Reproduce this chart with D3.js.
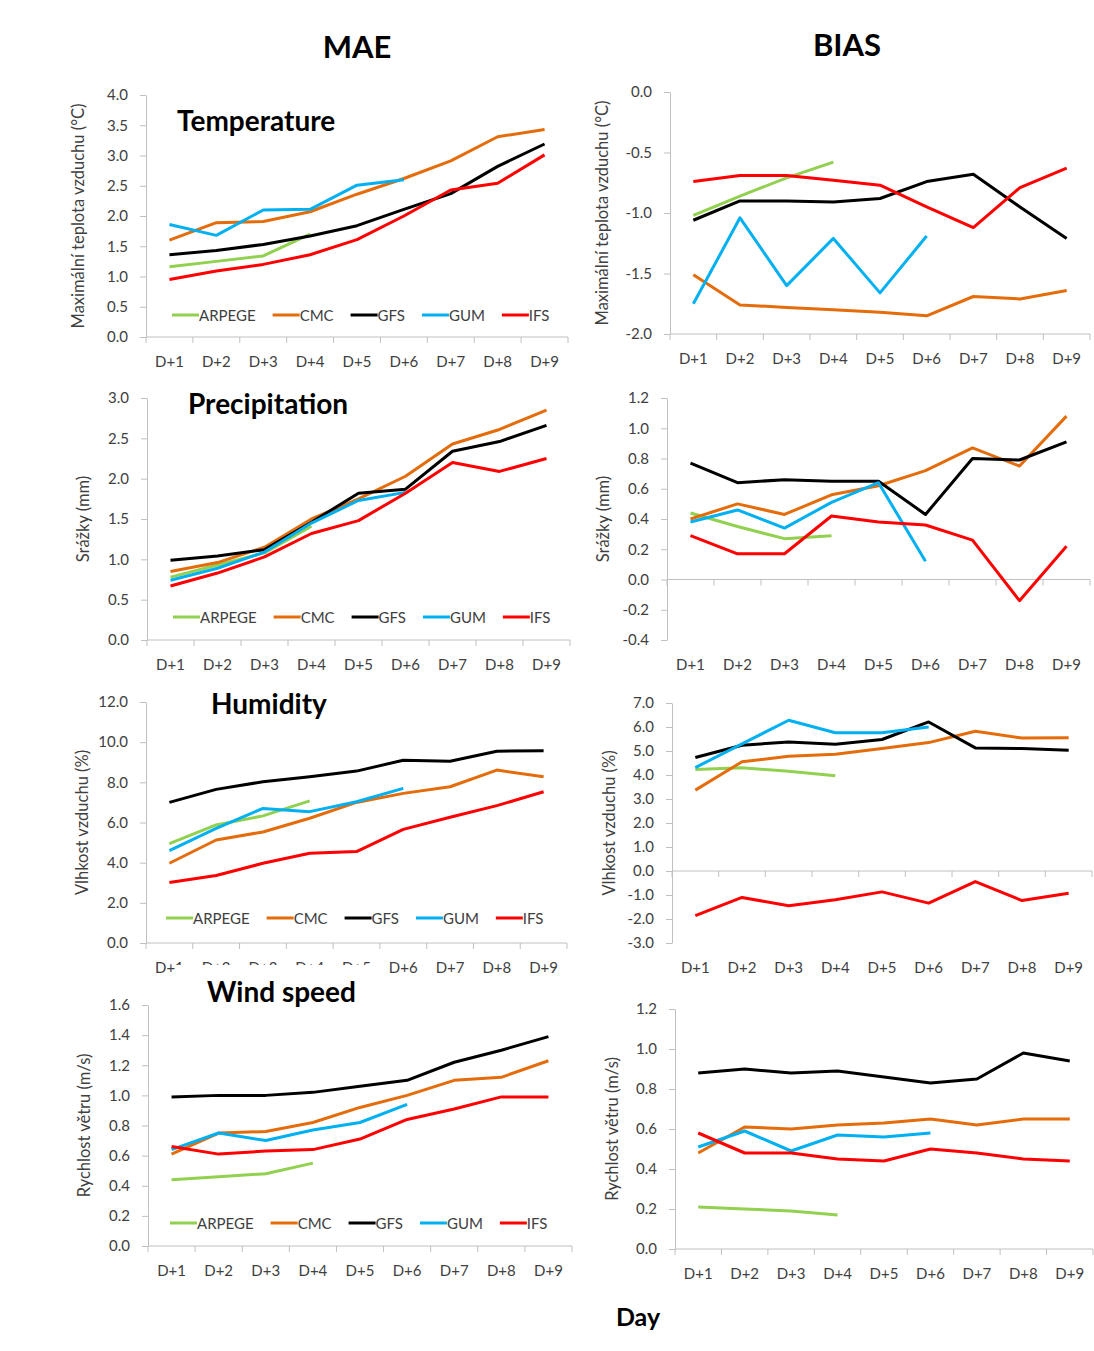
<!DOCTYPE html>
<html>
<head>
<meta charset="utf-8">
<script src="https://cdn.jsdelivr.net/npm/d3@7"></script>
<style>
  body { margin: 0; background: #ffffff; }
  svg { display: block; }
  text { font-family: Lato, "Open Sans", sans-serif; }
</style>
</head>
<body>
<svg id="chart" width="1094" height="1351"></svg>
<script>
// Forecast lead days and models
const days = ["D+1", "D+2", "D+3", "D+4", "D+5", "D+6", "D+7", "D+8", "D+9"];
const models = ["ARPEGE", "CMC", "GFS", "GUM", "IFS"];
const modelColors = ["#92d050", "#e46c0a", "#000000", "#00b0f0", "#ff0000"];

// Each table: one row per model (order as in `models`), one value per lead day
const maeTemperature = [
  [1.16, 1.25, 1.34, 1.70],
  [1.60, 1.89, 1.91, 2.07, 2.36, 2.62, 2.91, 3.31, 3.43],
  [1.36, 1.43, 1.53, 1.67, 1.84, 2.11, 2.37, 2.82, 3.19],
  [1.86, 1.68, 2.10, 2.11, 2.51, 2.60],
  [0.95, 1.09, 1.20, 1.36, 1.61, 2.00, 2.43, 2.54, 3.01]
];
const biasTemperature = [
  [-1.02, -0.86, -0.71, -0.58],
  [-1.51, -1.76, -1.78, -1.80, -1.82, -1.85, -1.69, -1.71, -1.64],
  [-1.06, -0.90, -0.90, -0.91, -0.88, -0.74, -0.68, -0.95, -1.21],
  [-1.75, -1.04, -1.60, -1.21, -1.66, -1.19],
  [-0.74, -0.69, -0.69, -0.73, -0.77, -0.95, -1.12, -0.79, -0.63]
];
const maePrecipitation = [
  [0.78, 0.93, 1.08, 1.41],
  [0.85, 0.96, 1.15, 1.50, 1.75, 2.03, 2.43, 2.61, 2.85],
  [0.99, 1.04, 1.12, 1.46, 1.82, 1.87, 2.34, 2.46, 2.66],
  [0.74, 0.89, 1.09, 1.45, 1.73, 1.83],
  [0.67, 0.83, 1.03, 1.32, 1.48, 1.82, 2.20, 2.09, 2.25]
];
const biasPrecipitation = [
  [0.44, 0.35, 0.27, 0.29],
  [0.40, 0.50, 0.43, 0.56, 0.62, 0.72, 0.87, 0.75, 1.08],
  [0.77, 0.64, 0.66, 0.65, 0.65, 0.43, 0.80, 0.79, 0.91],
  [0.38, 0.46, 0.34, 0.51, 0.64, 0.12],
  [0.29, 0.17, 0.17, 0.42, 0.38, 0.36, 0.26, -0.14, 0.22]
];
const maeHumidity = [
  [4.95, 5.88, 6.33, 7.08],
  [3.97, 5.13, 5.53, 6.21, 7.00, 7.45, 7.78, 8.61, 8.28],
  [7.00, 7.65, 8.03, 8.28, 8.56, 9.10, 9.05, 9.55, 9.57],
  [4.60, 5.71, 6.70, 6.54, 7.03, 7.70],
  [3.01, 3.36, 3.97, 4.47, 4.55, 5.66, 6.26, 6.84, 7.53]
];
const biasHumidity = [
  [4.23, 4.30, 4.16, 3.97],
  [3.37, 4.55, 4.78, 4.86, 5.10, 5.35, 5.82, 5.54, 5.55],
  [4.73, 5.24, 5.38, 5.28, 5.48, 6.21, 5.13, 5.10, 5.03],
  [4.31, 5.30, 6.28, 5.76, 5.76, 6.00],
  [-1.86, -1.10, -1.45, -1.20, -0.87, -1.34, -0.44, -1.23, -0.93]
];
const maeWind = [
  [0.44, 0.46, 0.48, 0.55],
  [0.61, 0.75, 0.76, 0.82, 0.92, 1.00, 1.10, 1.12, 1.23],
  [0.99, 1.00, 1.00, 1.02, 1.06, 1.10, 1.22, 1.30, 1.39],
  [0.64, 0.75, 0.70, 0.77, 0.82, 0.94],
  [0.66, 0.61, 0.63, 0.64, 0.71, 0.84, 0.91, 0.99, 0.99]
];
const biasWind = [
  [0.21, 0.20, 0.19, 0.17],
  [0.48, 0.61, 0.60, 0.62, 0.63, 0.65, 0.62, 0.65, 0.65],
  [0.88, 0.90, 0.88, 0.89, 0.86, 0.83, 0.85, 0.98, 0.94],
  [0.51, 0.59, 0.49, 0.57, 0.56, 0.58],
  [0.58, 0.48, 0.48, 0.45, 0.44, 0.50, 0.48, 0.45, 0.44]
];

// Value axis ranges [min, max, step]
const maeTemperatureAxis = [0, 4, 0.5];
const biasTemperatureAxis = [-2, 0, 0.5];
const maePrecipitationAxis = [0, 3, 0.5];
const biasPrecipitationAxis = [-0.4, 1.2, 0.2];
const maeHumidityAxis = [0, 12, 2];
const biasHumidityAxis = [-3, 7, 1];
const maeWindAxis = [0, 1.6, 0.2];
const biasWindAxis = [0, 1.2, 0.2];

const AXIS_COLOR = "#c0c0c0";
const TEXT_COLOR = "#404040";
const FONT_SIZE = 15;
const TITLE_SIZE = 16.5;

const svg = d3.select("#chart");

const panels = [
  { data: maeTemperature, axis: maeTemperatureAxis, x0: 146, x1: 568, yTop: 95, yBot: 337,
    yTitle: "Maximální teplota vzduchu (°C)", yTitleX: 78, legendY: 315, legendX: 172,
    label: "Temperature", labelX: 177, labelY: 131 },
  { data: biasTemperature, axis: biasTemperatureAxis, x0: 670, x1: 1090, yTop: 92, yBot: 334,
    yTitle: "Maximální teplota vzduchu (°C)", yTitleX: 602 },
  { data: maePrecipitation, axis: maePrecipitationAxis, x0: 147, x1: 570, yTop: 398, yBot: 640,
    yTitle: "Srážky (mm)", yTitleX: 83, legendY: 617, legendX: 173,
    label: "Precipitation", labelX: 188, labelY: 414 },
  { data: biasPrecipitation, axis: biasPrecipitationAxis, x0: 667, x1: 1090, yTop: 398, yBot: 640,
    yTitle: "Srážky (mm)", yTitleX: 603 },
  { data: maeHumidity, axis: maeHumidityAxis, x0: 146, x1: 567, yTop: 702, yBot: 943,
    yTitle: "Vlhkost vzduchu (%)", yTitleX: 82, legendY: 918, legendX: 166,
    label: "Humidity", labelX: 211, labelY: 714 },
  { data: biasHumidity, axis: biasHumidityAxis, x0: 672, x1: 1092, yTop: 703, yBot: 943,
    yTitle: "Vlhkost vzduchu (%)", yTitleX: 609 },
  { data: maeWind, axis: maeWindAxis, x0: 148, x1: 572, yTop: 1005, yBot: 1246,
    yTitle: "Rychlost větru (m/s)", yTitleX: 84, legendY: 1223, legendX: 170 },
  { data: biasWind, axis: biasWindAxis, x0: 675, x1: 1093, yTop: 1009, yBot: 1249,
    yTitle: "Rychlost větru (m/s)", yTitleX: 612 }
];

const fmt = v => (Math.abs(v) < 1e-9 ? 0 : v).toFixed(1);

function drawPanel(p) {
  const g = svg.append("g");
  const [vMin, vMax, vStep] = p.axis;
  const x = d3.scaleBand().domain(days).range([p.x0, p.x1]);
  const y = d3.scaleLinear().domain([vMin, vMax]).range([p.yBot, p.yTop]);
  const ticks = d3.range(0, Math.round((vMax - vMin) / vStep) + 1).map(i => +(vMin + i * vStep).toFixed(6));

  // value axis
  const yg = g.append("g")
    .attr("transform", `translate(${p.x0},0)`)
    .call(d3.axisLeft(y).tickValues(ticks).tickFormat(fmt).tickSize(6).tickSizeOuter(0).tickPadding(12));
  yg.select(".domain").attr("stroke", AXIS_COLOR);
  yg.selectAll(".tick line").attr("stroke", AXIS_COLOR);
  yg.selectAll(".tick text").attr("fill", TEXT_COLOR)
    .style("font-size", FONT_SIZE + "px").style("font-family", "Lato, sans-serif");

  // category axis line (at zero when the range crosses it) with boundary ticks
  const baseY = (vMin < 0 && vMax > 0) ? y(0) : p.yBot;
  g.append("line")
    .attr("x1", p.x0).attr("x2", p.x1).attr("y1", baseY).attr("y2", baseY)
    .attr("stroke", AXIS_COLOR);
  const bounds = days.map(d => x(d)).concat([p.x1]);
  g.selectAll(".btick").data(bounds).join("line")
    .attr("x1", d => d).attr("x2", d => d)
    .attr("y1", baseY).attr("y2", baseY + 6)
    .attr("stroke", AXIS_COLOR);

  // category labels sit below the plot area
  const xg = g.append("g")
    .attr("transform", `translate(0,${p.yBot})`)
    .call(d3.axisBottom(x).tickSize(0).tickPadding(19));
  xg.select(".domain").remove();
  xg.selectAll(".tick text").attr("fill", TEXT_COLOR)
    .style("font-size", FONT_SIZE + "px").style("font-family", "Lato, sans-serif");

  // axis title
  g.append("text")
    .attr("transform", `translate(${p.yTitleX},${(p.yTop + p.yBot) / 2}) rotate(-90)`)
    .attr("text-anchor", "middle")
    .attr("dominant-baseline", "central")
    .attr("fill", TEXT_COLOR)
    .style("font-size", TITLE_SIZE + "px")
    .text(p.yTitle);

  // series
  const line = d3.line()
    .x((v, i) => x(days[i]) + x.bandwidth() / 2)
    .y(v => y(v));
  g.selectAll(".series").data(p.data).join("path")
    .attr("d", line)
    .attr("fill", "none")
    .attr("stroke", (d, i) => modelColors[i])
    .attr("stroke-width", 3)
    .attr("stroke-linejoin", "round")
    .attr("stroke-linecap", "butt");

  // legend
  if (p.legendY !== undefined) {
    let cx = p.legendX;
    models.forEach((m, i) => {
      g.append("line")
        .attr("x1", cx).attr("x2", cx + 27)
        .attr("y1", p.legendY).attr("y2", p.legendY)
        .attr("stroke", modelColors[i]).attr("stroke-width", 3);
      const t = g.append("text")
        .attr("x", cx + 27).attr("y", p.legendY)
        .attr("dominant-baseline", "central")
        .attr("fill", TEXT_COLOR)
        .style("font-size", FONT_SIZE + "px")
        .text(m);
      cx += 27 + t.node().getComputedTextLength() + 17;
    });
  }

  if (p.label) {
    g.append("text")
      .attr("x", p.labelX).attr("y", p.labelY)
      .attr("fill", "#000")
      .style("font-size", "28px").style("font-weight", "bold")
      .text(p.label);
  }
}

panels.forEach(drawPanel);

// title block of the lower-left panel overlaps the labels above it
svg.append("rect")
  .attr("x", 176).attr("y", 965).attr("width", 198).attr("height", 38)
  .attr("fill", "#ffffff");
svg.append("text")
  .attr("x", 207).attr("y", 1002)
  .attr("fill", "#000")
  .style("font-size", "28px").style("font-weight", "bold")
  .text("Wind speed");

// column headings and shared axis caption
const heading = (txt, cx, cy, size) => svg.append("text")
  .attr("x", cx).attr("y", cy).attr("text-anchor", "middle")
  .attr("fill", "#000").style("font-size", size + "px").style("font-weight", "bold")
  .text(txt);
heading("MAE", 357, 58, 31);
heading("BIAS", 847, 56, 31);
heading("Day", 638, 1326, 25);
</script>
</body>
</html>
